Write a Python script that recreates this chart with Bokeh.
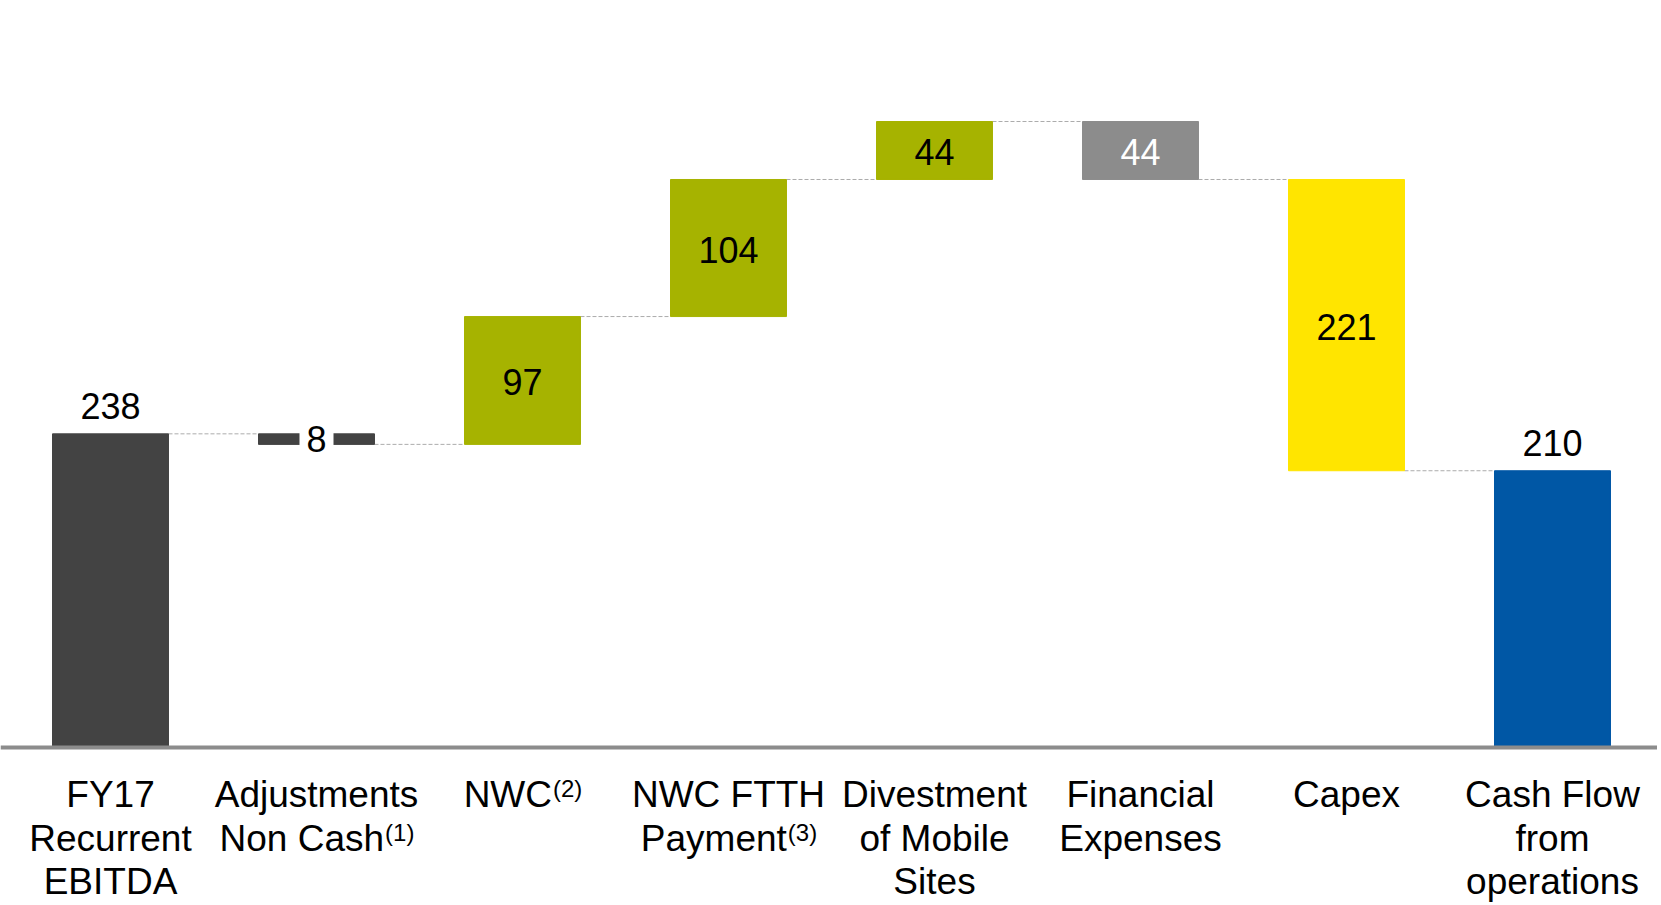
from bokeh.plotting import figure
from bokeh.models import ColumnDataSource, Range1d, Span
from bokeh.core.properties import value
from bokeh.embed import file_html
from bokeh.resources import INLINE

# ---- data ----
categories = ["FY17 Recurrent EBITDA", "Adjustments Non Cash", "NWC", "NWC FTTH Payment",
              "Divestment of Mobile Sites", "Financial Expenses", "Capex", "Cash Flow from operations"]
cat_lines = [["FY17", "Recurrent", "EBITDA"], ["Adjustments", "Non Cash"], ["NWC"],
             ["NWC FTTH", "Payment"], ["Divestment", "of Mobile", "Sites"],
             ["Financial", "Expenses"], ["Capex"], ["Cash Flow", "from", "operations"]]
footnotes = ["", "(1)", "(2)", "(3)", "", "", "", ""]
values = [238, -8, 97, 104, 44, -44, -221, 210]
is_total = [True, False, False, False, False, False, False, True]
labels = ["238", "8", "97", "104", "44", "44", "221", "210"]
colors = ["#434343", "#434343", "#a6b300", "#a6b300", "#a6b300", "#8c8c8c", "#ffe500", "#0057a5"]
label_colors = ["black", "black", "black", "black", "black", "white", "black", "black"]

FONT = "Liberation Sans"
W = 0.563
FIG_W, FIG_H = 1657, 903
PX_PER_CAT = 206.0
PX_PER_UNIT = 626.0 / 475.0
BASE_PX = 747.0   # baseline position from top

# ---- waterfall geometry ----
bottoms, tops, ends = [], [], []
run = 0
for v, tot in zip(values, is_total):
    if tot:
        b, t = 0, v
        run = v
    else:
        new = run + v
        b, t = min(run, new), max(run, new)
        run = new
    bottoms.append(b)
    tops.append(t)
    ends.append(run)

xs = list(range(len(values)))
src = ColumnDataSource(dict(x=xs, bottom=bottoms, top=tops, color=colors))

x0 = -110.0 / PX_PER_CAT
y_top = BASE_PX / PX_PER_UNIT
y_bot = -(FIG_H - BASE_PX) / PX_PER_UNIT
p = figure(width=FIG_W, height=FIG_H, output_backend="svg", toolbar_location=None,
           x_range=Range1d(x0, x0 + FIG_W / PX_PER_CAT),
           y_range=Range1d(y_bot, y_top),
           min_border=0, min_border_left=0, min_border_right=0, min_border_top=0, min_border_bottom=0)
p.axis.visible = False
p.grid.visible = False
p.outline_line_color = None
p.background_fill_color = "white"
p.border_fill_color = "white"

# connectors
cx0 = [i + W / 2 for i in xs[:-1]]
cx1 = [i + 1 - W / 2 for i in xs[:-1]]
cy = ends[:-1]
p.segment(x0=cx0, y0=cy, x1=cx1, y1=cy, line_color="#acacac", line_width=1, line_dash="4 2")

p.vbar(x="x", bottom="bottom", top="top", width=W, color="color", source=src)

# baseline
p.add_layout(Span(location=0, dimension="width", line_color="#8c8c8c", line_width=4))

VAL_SIZE = 36
CAT_SIZE = 37
SUP_SIZE = 24

def corr(size):
    # measured shift of the alphabetic baseline in the rendered svg
    return 15.0 * size / 36.0

# value labels
above_x, above_y, above_t = [], [], []
in_x, in_y, in_t, in_c = [], [], [], []
for i, (b, t) in enumerate(zip(bottoms, tops)):
    if is_total[i]:
        above_x.append(i); above_y.append(t); above_t.append(labels[i])
    elif i == 1:
        pass
    else:
        in_x.append(i); in_y.append((b + t) / 2); in_t.append(labels[i]); in_c.append(label_colors[i])

p.text(x=above_x, y=above_y, text=above_t, text_font=value(FONT), text_font_size=f"{VAL_SIZE}px",
       text_align="center", text_baseline="alphabetic", y_offset=-13 - corr(VAL_SIZE), text_color="black")
p.text(x=in_x, y=in_y, text=in_t, text_color=in_c, text_font=value(FONT), text_font_size=f"{VAL_SIZE}px",
       text_align="center", text_baseline="middle", y_offset=2)
# small adjustment label, drawn over its bar
p.text(x=[1], y=[(bottoms[1] + tops[1]) / 2], text=[labels[1]], text_font=value(FONT),
       text_font_size=f"{VAL_SIZE}px", text_align="center", text_baseline="middle", y_offset=0,
       background_fill_color="white", padding=[7, 2], text_color="black")

# category labels (below baseline)
ARIAL = {' ': 278, 'A': 667, 'B': 667, 'C': 722, 'D': 722, 'E': 667, 'F': 611, 'I': 278, 'M': 833,
         'N': 722, 'P': 667, 'R': 722, 'S': 667, 'T': 611, 'W': 944, 'Y': 667, 'H': 722,
         'a': 556, 'b': 556, 'c': 500, 'd': 556, 'e': 556, 'f': 278, 'h': 556, 'i': 222, 'j': 222,
         'l': 222, 'm': 833, 'n': 556, 'o': 556, 'p': 556, 'r': 333, 's': 500, 't': 278, 'u': 556,
         'v': 500, 'w': 722, 'x': 500, 'y': 500, '(': 333, ')': 333}

def tw(s, size):
    return sum(ARIAL.get(ch, 556) for ch in s) * size / 1000.0

line_offsets = [62, 106, 149]
lx, lt, lxo, lyo = [], [], [], []
sx, st, sxo, syo = [], [], [], []
for i, lines in enumerate(cat_lines):
    for j, ln in enumerate(lines):
        xo = 0.0
        if j == len(lines) - 1 and footnotes[i]:
            supw = tw(footnotes[i], SUP_SIZE)
            mainw = tw(ln, CAT_SIZE)
            xo = -supw / 2
            sx.append(i); st.append(footnotes[i])
            sxo.append(mainw / 2 - supw / 2 + 1); syo.append(line_offsets[j] - 11 - corr(SUP_SIZE))
        lx.append(i); lt.append(ln); lxo.append(xo); lyo.append(line_offsets[j] - corr(CAT_SIZE))

p.text(x=lx, y=[0] * len(lx), text=lt, x_offset=lxo, y_offset=lyo, text_font=value(FONT),
       text_font_size=f"{CAT_SIZE}px", text_align="center", text_baseline="alphabetic", text_color="black")
p.text(x=sx, y=[0] * len(sx), text=st, x_offset=sxo, y_offset=syo, text_font=value(FONT),
       text_font_size=f"{SUP_SIZE}px", text_align="left", text_baseline="alphabetic", text_color="black")

open("out.html", "w").write(file_html(p, INLINE))
